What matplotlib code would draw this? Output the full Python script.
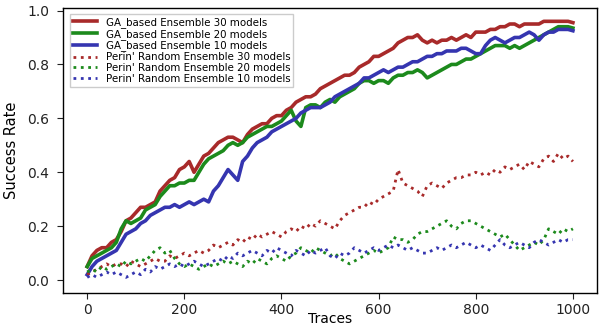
import numpy as np
import matplotlib
matplotlib.use("Agg")
import matplotlib.pyplot as plt

# traces sampled every 10 (0..1000)
traces = np.arange(0, 1001, 10)

ga_30 = [
    0.05, 0.09, 0.11, 0.12, 0.12, 0.14, 0.15, 0.18, 0.22, 0.23,
    0.25, 0.27, 0.27, 0.28, 0.29, 0.33, 0.35, 0.37, 0.38, 0.41,
    0.42, 0.44, 0.40, 0.43, 0.46, 0.47, 0.49, 0.51, 0.52, 0.53,
    0.53, 0.52, 0.51, 0.54, 0.56, 0.57, 0.58, 0.58, 0.60, 0.61,
    0.61, 0.63, 0.64, 0.66, 0.67, 0.68, 0.68, 0.69, 0.71, 0.72,
    0.73, 0.74, 0.75, 0.76, 0.76, 0.77, 0.79, 0.80, 0.81, 0.83,
    0.83, 0.84, 0.85, 0.86, 0.88, 0.89, 0.90, 0.90, 0.91, 0.89,
    0.88, 0.89, 0.88, 0.89, 0.89, 0.90, 0.89, 0.90, 0.91, 0.90,
    0.92, 0.92, 0.92, 0.93, 0.93, 0.94, 0.94, 0.95, 0.95, 0.94,
    0.95, 0.95, 0.95, 0.95, 0.96, 0.96, 0.96, 0.96, 0.96, 0.96, 0.955,
]
ga_20 = [
    0.05, 0.08, 0.09, 0.10, 0.11, 0.12, 0.14, 0.19, 0.22, 0.21,
    0.22, 0.23, 0.26, 0.27, 0.28, 0.31, 0.33, 0.35, 0.35, 0.36,
    0.36, 0.37, 0.37, 0.40, 0.43, 0.45, 0.46, 0.47, 0.48, 0.50,
    0.51, 0.50, 0.51, 0.53, 0.54, 0.55, 0.56, 0.57, 0.57, 0.58,
    0.59, 0.61, 0.63, 0.59, 0.57, 0.64, 0.65, 0.65, 0.64, 0.66,
    0.67, 0.66, 0.68, 0.69, 0.70, 0.71, 0.73, 0.74, 0.74, 0.73,
    0.74, 0.74, 0.73, 0.75, 0.76, 0.76, 0.77, 0.77, 0.78, 0.77,
    0.75, 0.76, 0.77, 0.78, 0.79, 0.80, 0.80, 0.81, 0.82, 0.82,
    0.83, 0.84, 0.85, 0.86, 0.87, 0.87, 0.87, 0.86, 0.87, 0.86,
    0.87, 0.88, 0.89, 0.90, 0.91, 0.92, 0.93, 0.94, 0.94, 0.94, 0.935,
]
ga_10 = [
    0.02, 0.05, 0.07, 0.08, 0.09, 0.10, 0.11, 0.14, 0.17, 0.18,
    0.19, 0.21, 0.22, 0.24, 0.25, 0.26, 0.27, 0.27, 0.28, 0.27,
    0.28, 0.29, 0.28, 0.29, 0.30, 0.29, 0.33, 0.35, 0.38, 0.41,
    0.39, 0.37, 0.44, 0.46, 0.49, 0.51, 0.52, 0.53, 0.55, 0.56,
    0.57, 0.58, 0.59, 0.60, 0.62, 0.63, 0.64, 0.64, 0.64, 0.65,
    0.66, 0.68, 0.69, 0.70, 0.71, 0.72, 0.73, 0.75, 0.75, 0.76,
    0.77, 0.78, 0.77, 0.78, 0.79, 0.79, 0.80, 0.81, 0.81, 0.82,
    0.83, 0.83, 0.84, 0.84, 0.85, 0.85, 0.85, 0.86, 0.86, 0.85,
    0.84, 0.84, 0.87, 0.89, 0.90, 0.89, 0.88, 0.89, 0.90, 0.90,
    0.91, 0.92, 0.91, 0.89, 0.91, 0.92, 0.92, 0.93, 0.93, 0.93, 0.925,
]
perin_30 = [
    0.02, 0.03, 0.04, 0.05, 0.06, 0.05, 0.06, 0.06, 0.05, 0.07,
    0.06, 0.05, 0.06, 0.07, 0.08, 0.07, 0.07, 0.09, 0.08, 0.09,
    0.10, 0.09, 0.10, 0.11, 0.10, 0.11, 0.13, 0.12, 0.13, 0.14,
    0.13, 0.15, 0.14, 0.16, 0.15, 0.17, 0.16, 0.17, 0.18, 0.17,
    0.16, 0.18, 0.19, 0.18, 0.20, 0.19, 0.21, 0.20, 0.22, 0.21,
    0.20, 0.19, 0.22, 0.24, 0.25, 0.26, 0.27, 0.27, 0.29, 0.28,
    0.30, 0.31, 0.32, 0.33, 0.41, 0.36, 0.35, 0.34, 0.33, 0.31,
    0.35, 0.36, 0.35, 0.34, 0.36, 0.37, 0.38, 0.38, 0.39, 0.39,
    0.40, 0.39, 0.40, 0.39, 0.41, 0.40, 0.42, 0.41, 0.42, 0.43,
    0.41, 0.44, 0.43, 0.42, 0.45, 0.46, 0.44, 0.47, 0.45, 0.46, 0.44,
]
perin_20 = [
    0.03, 0.04, 0.03, 0.05, 0.04, 0.05, 0.06, 0.05, 0.07, 0.06,
    0.07, 0.08, 0.07, 0.09, 0.11, 0.12, 0.10, 0.11, 0.08, 0.06,
    0.05, 0.06, 0.05, 0.04, 0.05, 0.06, 0.05, 0.06, 0.07, 0.06,
    0.07, 0.06, 0.05, 0.07, 0.06, 0.08, 0.07, 0.06, 0.08, 0.09,
    0.08, 0.07, 0.09, 0.10, 0.12, 0.11, 0.10, 0.12, 0.11, 0.10,
    0.09, 0.10, 0.08, 0.07, 0.06, 0.07, 0.08, 0.09, 0.10, 0.11,
    0.10, 0.11, 0.12, 0.16, 0.15, 0.15, 0.14, 0.15, 0.17, 0.18,
    0.18, 0.19, 0.20, 0.21, 0.22, 0.20, 0.19, 0.21, 0.22, 0.22,
    0.21, 0.20, 0.19, 0.18, 0.17, 0.16, 0.17, 0.15, 0.13, 0.11,
    0.12, 0.13, 0.14, 0.13, 0.15, 0.19, 0.18, 0.17, 0.19, 0.18, 0.19,
]
perin_10 = [
    0.01, 0.02, 0.01, 0.02, 0.03, 0.02, 0.03, 0.02, 0.01, 0.02,
    0.03, 0.02, 0.04, 0.03, 0.05, 0.04, 0.05, 0.06, 0.05, 0.06,
    0.05, 0.06, 0.07, 0.06, 0.05, 0.06, 0.07, 0.08, 0.07, 0.09,
    0.08, 0.10, 0.09, 0.10, 0.11, 0.10, 0.09, 0.11, 0.10, 0.12,
    0.11, 0.10, 0.09, 0.11, 0.10, 0.09, 0.11, 0.10, 0.11, 0.12,
    0.09, 0.08, 0.10, 0.09, 0.10, 0.12, 0.11, 0.10, 0.11, 0.12,
    0.11, 0.12, 0.13, 0.12, 0.13, 0.12, 0.11, 0.12, 0.11, 0.10,
    0.10, 0.11, 0.12, 0.11, 0.12, 0.13, 0.12, 0.13, 0.14, 0.13,
    0.12, 0.13, 0.12, 0.11, 0.13, 0.15, 0.13, 0.12, 0.13, 0.14,
    0.13, 0.12, 0.14, 0.15, 0.14, 0.13, 0.14, 0.15, 0.14, 0.15, 0.15,
]

red = "#a82a2a"
green = "#1c8a1c"
blue = "#3535b0"

series = [
    (ga_30, "GA_based Ensemble 30 models", red, "-"),
    (ga_20, "GA_based Ensemble 20 models", green, "-"),
    (ga_10, "GA_based Ensemble 10 models", blue, "-"),
    (perin_30, "Perin' Random Ensemble 30 models", red, ":"),
    (perin_20, "Perin' Random Ensemble 20 models", green, ":"),
    (perin_10, "Perin' Random Ensemble 10 models", blue, ":"),
]

fig = plt.figure(figsize=(5.99, 3.27), dpi=100)
ax = fig.add_axes([0.105, 0.104, 0.892, 0.872])

for values, label, color, style in series:
    lw = 2.6 if style == "-" else 2.0
    ax.plot(traces, values, linestyle=style, color=color, linewidth=lw, label=label)

ax.set_xlim(-50, 1050)
ax.set_ylim(-0.048, 1.01)
ax.set_xticks([0, 200, 400, 600, 800, 1000])
ax.set_yticks([0.0, 0.2, 0.4, 0.6, 0.8, 1.0])
ax.set_yticklabels(["0.0", "0.2", "0.4", "0.6", "0.8", "1.0"])
ax.tick_params(axis="both", labelsize=10, length=4, colors="#222222")
ax.tick_params(axis="y", pad=6)
ax.tick_params(axis="x", pad=3)
ax.set_xlabel("Traces", fontsize=10, va="center")
ax.xaxis.set_label_coords(0.5, -0.092)
ax.set_ylabel("Success Rate", fontsize=10.5, labelpad=6, fontfamily="Liberation Sans Narrow")
for side in ax.spines.values():
    side.set_linewidth(1.0)

ax.legend(loc="upper left", fontsize=7.4, frameon=True, framealpha=1, edgecolor="#cccccc",
          fancybox=False, handlelength=2.4, labelspacing=0.08, borderpad=0.3,
          bbox_to_anchor=(0.003, 0.997))

fig.savefig("out.png", dpi=100)
